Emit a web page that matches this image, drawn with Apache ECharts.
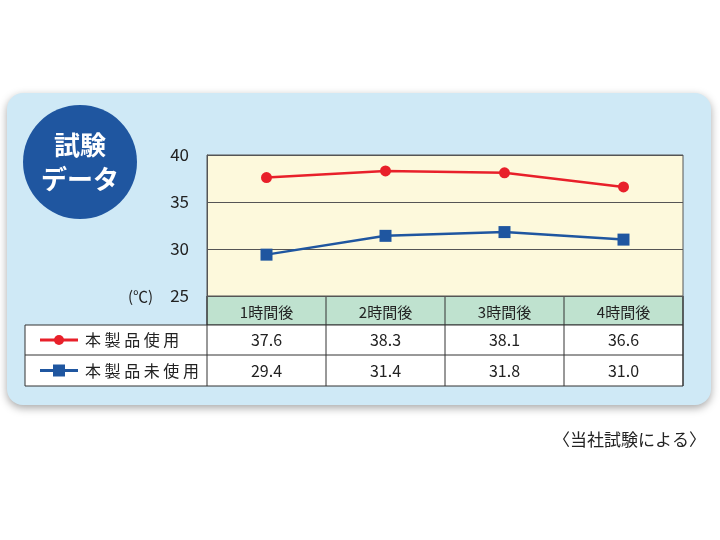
<!DOCTYPE html>
<html><head><meta charset="utf-8">
<script src="https://cdn.jsdelivr.net/npm/echarts@6/dist/echarts.min.js"></script>
<style>html,body{margin:0;background:#fff}#c{width:720px;height:540px}</style>
</head><body><div id="c"></div>
<script>
const categories = ['1時間後','2時間後','3時間後','4時間後'];
const seriesNames = ['本製品使用','本製品未使用'];
const usedValues = [37.6, 38.3, 38.1, 36.6];
const unusedValues = [29.4, 31.4, 31.8, 31.0];
const yTicks = [25, 30, 35, 40];

const F = '"Noto Sans CJK JP", sans-serif';
const chart = echarts.init(document.getElementById('c'));
const L = 207, R = 683, T = 155, B = 296;
const rowH = [29, 30, 31];
const colW = (R - L) / categories.length;
const g = [];
// background panel
g.push({type:'rect', shape:{x:7,y:93,width:704,height:312,r:16}, style:{fill:'#cfe9f6', shadowBlur:8, shadowColor:'rgba(0,0,0,0.35)', shadowOffsetY:3}, z:-10});
g.push({type:'circle', shape:{cx:80,cy:162,r:57}, style:{fill:'#1f56a0'}, z:-5});
g.push({type:'text', x:80, y:162, style:{text:'試験\nデータ', fill:'#fff', font:'bold 26px '+F, align:'center', verticalAlign:'middle', lineHeight:34}, z:1});
// table
const y1 = B, y2 = B + rowH[0], y3 = y2 + rowH[1], y4 = y3 + rowH[2];
g.push({type:'rect', shape:{x:L,y:y1,width:R-L,height:rowH[0]}, style:{fill:'#bfe2cf', stroke:'#333', lineWidth:1}, z:-1});
g.push({type:'rect', shape:{x:25,y:y2,width:R-25,height:y4-y2}, style:{fill:'#fff', stroke:'#333', lineWidth:1}, z:-1});
g.push({type:'line', shape:{x1:25,y1:y3,x2:R,y2:y3}, style:{stroke:'#333'}});
for (let i = 0; i <= categories.length; i++) {
  const x = L + colW * i;
  g.push({type:'line', shape:{x1:x,y1:y1,x2:x,y2:y4}, style:{stroke:'#333'}});
}
const rows = [[seriesNames[0], usedValues, '#e8202a', 'circle'], [seriesNames[1], unusedValues, '#1f56a0', 'rect']];
rows.forEach((r, k) => {
  const cy = k === 0 ? (y2 + y3) / 2 : (y3 + y4) / 2;
  g.push({type:'line', shape:{x1:40,y1:cy,x2:78,y2:cy}, style:{stroke:r[2], lineWidth:3}});
  if (r[3] === 'circle') g.push({type:'circle', shape:{cx:59,cy:cy,r:5}, style:{fill:r[2]}});
  else g.push({type:'rect', shape:{x:53,y:cy-6,width:12,height:12}, style:{fill:r[2]}});
  g.push({type:'text', x:85, y:cy, style:{text:r[0].split('').join(' '), fill:'#222', font:'16px '+F, verticalAlign:'middle'}});
  r[1].forEach((v, i) => g.push({type:'text', x:L + colW * (i + 0.5), y:cy, style:{text:v.toFixed(1), fill:'#222', font:'16px '+F, align:'center', verticalAlign:'middle'}}));
});
g.push({type:'text', x:128, y:B, style:{text:'(℃)', fill:'#222', font:'15px '+F, verticalAlign:'middle'}});
g.push({type:'text', x:706, y:440, style:{text:'〈当社試験による〉', fill:'#222', font:'17px '+F, align:'right', verticalAlign:'middle'}});

chart.setOption({
  animation:false,
  grid:{left:L, right:720-R, top:T, bottom:540-B, show:true, backgroundColor:'#fdf9dc', borderColor:'#555', borderWidth:1},
  xAxis:{type:'category', data:categories, boundaryGap:true,
    axisLine:{show:false}, axisTick:{show:false},
    axisLabel:{color:'#222', fontFamily:F, fontSize:15, margin:9}},
  yAxis:{type:'value', min:yTicks[0], max:yTicks[yTicks.length-1], interval:5,
    axisLine:{show:true, lineStyle:{color:'#555'}}, axisTick:{show:false},
    splitLine:{lineStyle:{color:'#555'}},
    axisLabel:{color:'#222', fontFamily:F, fontSize:17, margin:18, formatter:v=>v===25?'25':String(v)}},
  series:[
    {name:seriesNames[0], type:'line', data:usedValues, symbol:'circle', symbolSize:11, lineStyle:{color:'#e8202a', width:2.5}, itemStyle:{color:'#e8202a'}},
    {name:seriesNames[1], type:'line', data:unusedValues, symbol:'rect', symbolSize:12, lineStyle:{color:'#1f56a0', width:2.5}, itemStyle:{color:'#1f56a0'}}
  ],
  graphic:g
});
</script></body></html>
